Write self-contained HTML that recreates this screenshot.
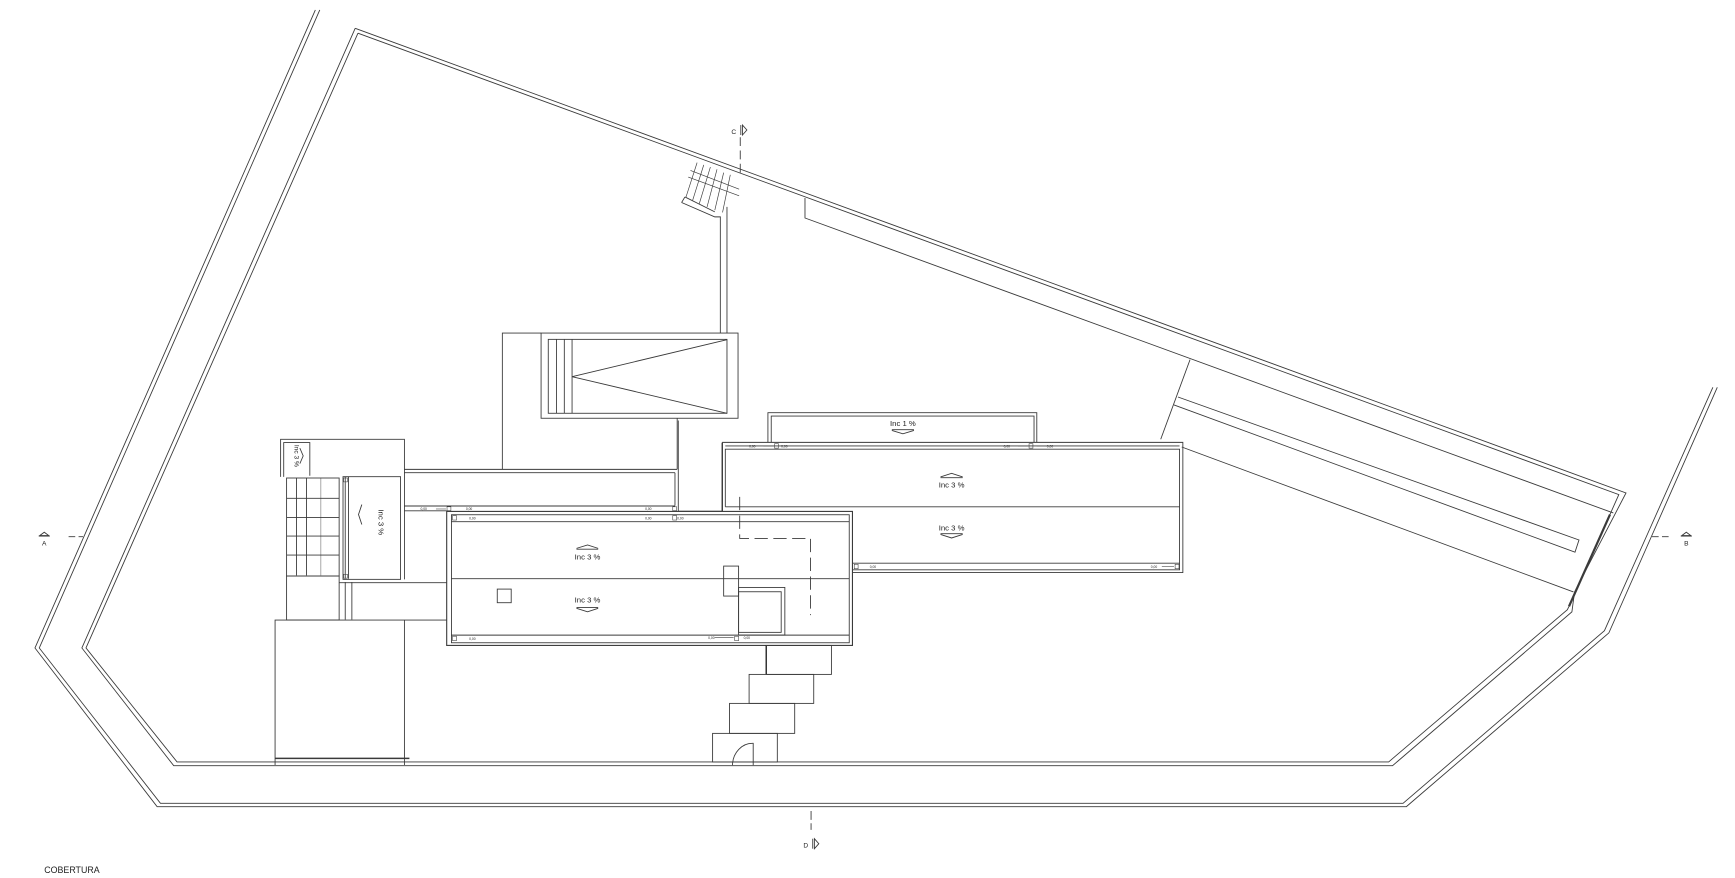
<!DOCTYPE html>
<html><head><meta charset="utf-8"><style>
html,body{margin:0;padding:0;background:#fff;width:1735px;height:878px;overflow:hidden}
svg{display:block}
text{font-family:"Liberation Sans",sans-serif;fill:#222}
</style></head><body>
<svg width="1735" height="878" viewBox="0 0 1568 793.5" preserveAspectRatio="none" xmlns="http://www.w3.org/2000/svg">
<g fill="none" stroke="#3a3a3a" stroke-width="0.8">
<!-- road strip -->
<polyline points="285,9 31.6,585.6 142,729 1271,729 1454,572 1552,350"/>
<polyline points="289,9 35.5,585.6 145,726 1268,726 1450,570 1548,350"/>
<!-- site boundary -->
<polyline points="321,25.6 1469.5,445.5 1423,535 1420.6,553 1258.5,692 157,692 74,585.6 321,25.6"/>
<polyline points="323.5,30 1463,447 1418,548 1416.5,551 1255,688.6 160,688.6 77.7,585.6 323.5,30"/>
<line x1="1455" y1="465" x2="1418" y2="548" stroke-width="2"/>
<!-- strips along top -->
<polyline points="727.5,179 727.5,197 1458,463.6"/>
<polyline points="1064.6,358.8 1427,488 1423.4,499 1061,366"/>
<line x1="1075.5" y1="325" x2="1049" y2="397"/>
<line x1="1068" y1="404" x2="1422" y2="535"/>
<!-- top stair -->
<line x1="619" y1="178" x2="646" y2="191.5"/>
<polyline points="616,183 619,178"/>
<polyline points="616,183 646,196 651,196 651,301"/>
<line x1="657" y1="187" x2="657" y2="301"/>
<g stroke-width="0.6">
<line x1="630" y1="147" x2="620" y2="178"/><line x1="636" y1="149" x2="626" y2="181"/>
<line x1="642" y1="151" x2="632" y2="184"/><line x1="648" y1="153" x2="639" y2="187"/>
<line x1="654" y1="156" x2="646" y2="190"/><line x1="660" y1="158" x2="653" y2="192"/>
<line x1="622" y1="160" x2="668" y2="177"/><line x1="624" y1="154" x2="668" y2="171"/>
</g>
<!-- section C -->
<line x1="669" y1="124" x2="669" y2="160" stroke-dasharray="8,4"/>
<polygon points="671,113 675,117.5 671,122" />
<line x1="669.5" y1="113" x2="669.5" y2="122"/>
<!-- pool / stair box -->
<rect x="489" y="301" width="178" height="77"/>
<rect x="495.5" y="306.7" width="161.5" height="66.8"/>
<line x1="503" y1="306.7" x2="503" y2="373.5"/><line x1="510" y1="306.7" x2="510" y2="373.5"/><line x1="517" y1="306.7" x2="517" y2="373.5"/>
<polyline points="657,307 517,340.4 657,373.5"/>
<polyline points="489,301 454,301 454,424"/>
<line x1="612" y1="378" x2="612" y2="424"/>
<!-- tower between -->
<polyline points="613,380 613,462 652.5,462 652.5,400"/>
<!-- Inc 1% box -->
<polyline points="694,399.8 694,373 937,373 937,399.8"/>
<polyline points="697,399.8 697,376 934.5,376 934.5,399.8"/>
<!-- upper right building -->
<polyline points="653,462 653,399.8 1069,399.8 1069,517.5 770.6,517.5"/>
<polyline points="655.5,458 655.5,406 1066,406 1066,515 770.6,515"/>
<line x1="655.5" y1="403" x2="1066" y2="403"/>
<line x1="770.6" y1="509" x2="1066" y2="509"/>
<line x1="655.5" y1="458" x2="1066" y2="458"/>
<!-- left tower -->
<polyline points="253.6,431 253.6,397 365.5,397 365.5,424.2 612,424.2"/>
<polyline points="256.4,431 256.4,400 280,400 280,430"/>
<line x1="365.5" y1="427.2" x2="610" y2="427.2"/>
<line x1="610" y1="427.2" x2="610" y2="457"/>
<rect x="310" y="430.8" width="52" height="92.8"/>
<line x1="312" y1="431" x2="312" y2="523"/><line x1="315" y1="431" x2="315" y2="523"/>
<rect x="259" y="432" width="47.5" height="88.6"/>
<line x1="259" y1="450.4" x2="306.5" y2="450.4"/><line x1="259" y1="467.6" x2="306.5" y2="467.6"/>
<line x1="259" y1="484.5" x2="306.5" y2="484.5"/><line x1="259" y1="501.6" x2="306.5" y2="501.6"/>
<line x1="268" y1="432" x2="268" y2="520"/><line x1="277" y1="432" x2="277" y2="520"/>
<line x1="290" y1="432" x2="290" y2="520" stroke-width="0.4"/>
<rect x="259" y="520.6" width="47.5" height="39.8"/>
<line x1="312" y1="526" x2="312" y2="560"/><line x1="318" y1="526" x2="318" y2="560"/>
<line x1="306.5" y1="526.6" x2="403.7" y2="526.6"/>
<line x1="365.5" y1="424.2" x2="365.5" y2="523.6"/>
<line x1="365.5" y1="457.3" x2="610" y2="457.3"/>
<line x1="365.5" y1="461.6" x2="403.7" y2="461.6"/>
<!-- lower-left block -->
<polyline points="248.6,691.4 248.6,560.4 403.7,560.4"/>
<line x1="365.5" y1="560.4" x2="365.5" y2="691.4"/>
<line x1="248.6" y1="685.4" x2="370" y2="685.4" stroke-width="1.4"/>
<!-- main lower building -->
<rect x="403.7" y="462.2" width="366.7" height="121.1" stroke-width="1"/>
<rect x="408" y="465.2" width="359.5" height="115.7"/>
<line x1="408" y1="471.5" x2="767.5" y2="471.5"/>
<line x1="408" y1="574" x2="767.5" y2="574"/>
<line x1="408" y1="523" x2="767.5" y2="523"/>
<rect x="449.4" y="532.4" width="12.6" height="12.3"/>
<rect x="654" y="511.6" width="13.5" height="27.1"/>
<rect x="667.5" y="530.9" width="41.8" height="43.1"/>
<rect x="667.5" y="534.8" width="38.5" height="36.7"/>
<polyline points="668.5,449 668.5,486.6 732.5,486.6 732.5,555.9" stroke-dasharray="12,5"/>
<!-- stairs below -->
<line x1="692.5" y1="583.3" x2="692.5" y2="609.5" stroke="#000" stroke-width="1.2"/>
<rect x="692.5" y="583.3" width="58.9" height="26.2"/>
<rect x="677" y="609.5" width="58.4" height="26.2"/>
<rect x="659.3" y="635.7" width="58.9" height="27.1"/>
<rect x="644" y="662.8" width="58.5" height="25.8"/>
<path d="M662,691.5 A18,20 0 0 1 680.7,671.8 L680.7,691.5"/>
<!-- section A, B, D -->
<line x1="62" y1="485" x2="75" y2="485" stroke-dasharray="6,3"/>
<line x1="1493" y1="485" x2="1510" y2="485" stroke-dasharray="6,3"/>
<line x1="733" y1="733" x2="733" y2="750" stroke-dasharray="8,3"/>
<path d="M36,484 L40,481 L44,484 Z"/><line x1="35" y1="484.5" x2="45" y2="484.5"/>
<path d="M1520,484 L1524,481 L1528,484 Z"/><line x1="1519" y1="484.5" x2="1529" y2="484.5"/>
<line x1="734.5" y1="758" x2="734.5" y2="767"/><polygon points="736,758 740,762.5 736,767"/>
<!-- chevrons -->
<polyline points="521,495.6 531,492.5 540.6,495.6"/><line x1="521" y1="496.3" x2="540.6" y2="496.3"/>
<polyline points="521,549.8 531,552.9 540.6,549.8"/><line x1="521" y1="549.1" x2="540.6" y2="549.1"/>
<polyline points="850,431 860,427.8 870,431"/><line x1="850" y1="431.7" x2="870" y2="431.7"/>
<polyline points="850,483 860,486.2 870,483"/><line x1="850" y1="482.3" x2="870" y2="482.3"/>
<polyline points="806,389 816,392 826,389"/><line x1="806" y1="388.3" x2="826" y2="388.3"/>
<polyline points="327,456 324,465 327,474"/>
<polyline points="271,405 274,412 271,419"/>
<!-- drains -->
<g stroke-width="0.5">
<rect x="700" y="401" width="3.5" height="4"/><rect x="930" y="401" width="3.5" height="4"/>
<rect x="1062" y="510" width="3.5" height="4"/><rect x="772" y="510" width="3.5" height="4"/>
<rect x="409" y="466" width="3.5" height="4"/><rect x="409" y="575" width="3.5" height="4"/>
<rect x="664" y="575" width="3.5" height="4"/><rect x="404" y="458" width="3.5" height="3.5"/>
<rect x="608" y="458" width="3.5" height="3.5"/><rect x="608" y="466" width="3.5" height="4"/>
<rect x="310.5" y="432" width="3.5" height="3.5"/><rect x="310.5" y="519" width="3.5" height="3.5"/>
<line x1="690" y1="403" x2="699" y2="403"/><line x1="920" y1="403" x2="929" y2="403"/>
<line x1="937" y1="403" x2="946" y2="403"/><line x1="1050" y1="512" x2="1061" y2="512"/>
<line x1="646" y1="576" x2="663" y2="576"/><line x1="394" y1="460" x2="403" y2="460"/>
</g>
</g>
<g font-size="3" fill="#444">
<text x="677" y="404.5">0,00</text><text x="706" y="404.5">0,00</text>
<text x="907" y="404.5">0,00</text><text x="946" y="404.5">0,00</text>
<text x="1040" y="513.5">0,00</text><text x="786" y="513.5">0,00</text>
<text x="424" y="469.5">0,00</text><text x="424" y="578.5">0,00</text>
<text x="640" y="577.5">0,00</text><text x="672" y="577.5">0,00</text>
<text x="380" y="461">0,00</text><text x="421" y="461">0,00</text>
<text x="583" y="461">0,00</text><text x="583" y="469.5">0,00</text><text x="612" y="469.5">0,00</text>
</g>
<g font-size="7">
<text x="531" y="505.5" text-anchor="middle">Inc 3 %</text>
<text x="531" y="544.7" text-anchor="middle">Inc 3 %</text>
<text x="860" y="440.5" text-anchor="middle">Inc 3 %</text>
<text x="860" y="479.5" text-anchor="middle">Inc 3 %</text>
<text x="816" y="385" text-anchor="middle">Inc 1 %</text>
<text transform="translate(342,472) rotate(90)" text-anchor="middle">Inc 3 %</text>
<text transform="translate(266,412) rotate(90)" text-anchor="middle" font-size="6">Inc 3 %</text>
</g>
<g font-size="6">
<text x="38" y="493">A</text><text x="1522" y="493">B</text>
<text x="726" y="766">D</text><text x="661" y="121">C</text>
</g>
<text x="40" y="789" font-size="8">COBERTURA</text>
</svg>
</body></html>
